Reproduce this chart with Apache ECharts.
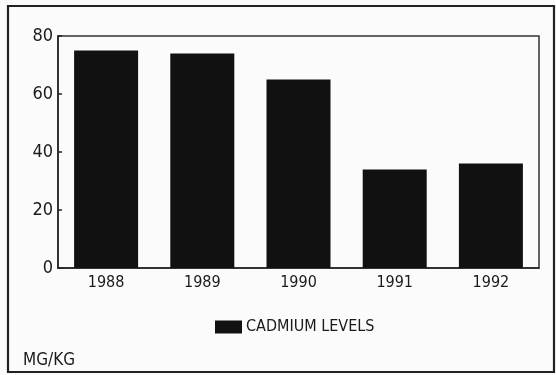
<!DOCTYPE html>
<html>
<head>
<meta charset="utf-8">
<script src="https://cdn.jsdelivr.net/npm/echarts@6/dist/echarts.min.js"></script>
<style>
  html, body { margin: 0; padding: 0; background: #fbfbfb; }
  #chart { width: 556px; height: 375px; }
</style>
</head>
<body>
<div id="chart"></div>
<script>
// Cadmium levels by year, in mg/kg
const years = ['1988', '1989', '1990', '1991', '1992'];
const cadmiumLevels = [75, 74, 65, 34, 36];
const yTicks = { min: 0, max: 80, interval: 20 };

const FONT = '"Liberation Sans Narrow", "DejaVu Sans Condensed", sans-serif';
const INK = '#1a1a1a';

const chart = echarts.init(document.getElementById('chart'), null, { renderer: 'canvas' });

chart.setOption({
  backgroundColor: '#fbfbfb',
  animation: false,
  grid: {
    left: 58, right: 17, top: 36, bottom: 107,
    show: true,
    borderColor: '#333',
    borderWidth: 1.5,
    backgroundColor: 'transparent'
  },
  legend: {
    data: ['CADMIUM LEVELS'],
    left: 210, top: 314,
    icon: 'rect',
    itemWidth: 27, itemHeight: 13, itemGap: 4,
    textStyle: { fontFamily: FONT, fontSize: 16, color: INK, padding: [0, 0, 0, -1] }
  },
  xAxis: {
    type: 'category',
    data: years,
    axisLine: { show: true, lineStyle: { color: '#222', width: 1.5 } },
    axisTick: { show: false },
    axisLabel: { fontFamily: FONT, fontSize: 16, color: INK, margin: 7 },
    splitLine: { show: false }
  },
  yAxis: {
    type: 'value',
    min: yTicks.min, max: yTicks.max, interval: yTicks.interval,
    axisLine: { show: true, lineStyle: { color: '#222', width: 1.5 } },
    axisTick: { show: true, inside: true, length: 4, lineStyle: { color: '#222', width: 1.5 } },
    axisLabel: { fontFamily: FONT, fontSize: 18, color: INK, margin: 5 },
    splitLine: { show: false }
  },
  series: [{
    name: 'CADMIUM LEVELS',
    type: 'bar',
    data: cadmiumLevels,
    barWidth: 64,
    itemStyle: { color: '#111' }
  }],
  graphic: [
    // outer frame around the figure
    {
      type: 'rect',
      shape: { x: 8, y: 6, width: 546, height: 366 },
      style: { fill: null, stroke: '#222', lineWidth: 2.2 },
      z: 10
    },
    {
      type: 'text',
      left: 23, top: 352,
      style: { text: 'MG/KG', font: '17px ' + FONT, fill: INK }
    }
  ]
});
</script>
</body>
</html>
